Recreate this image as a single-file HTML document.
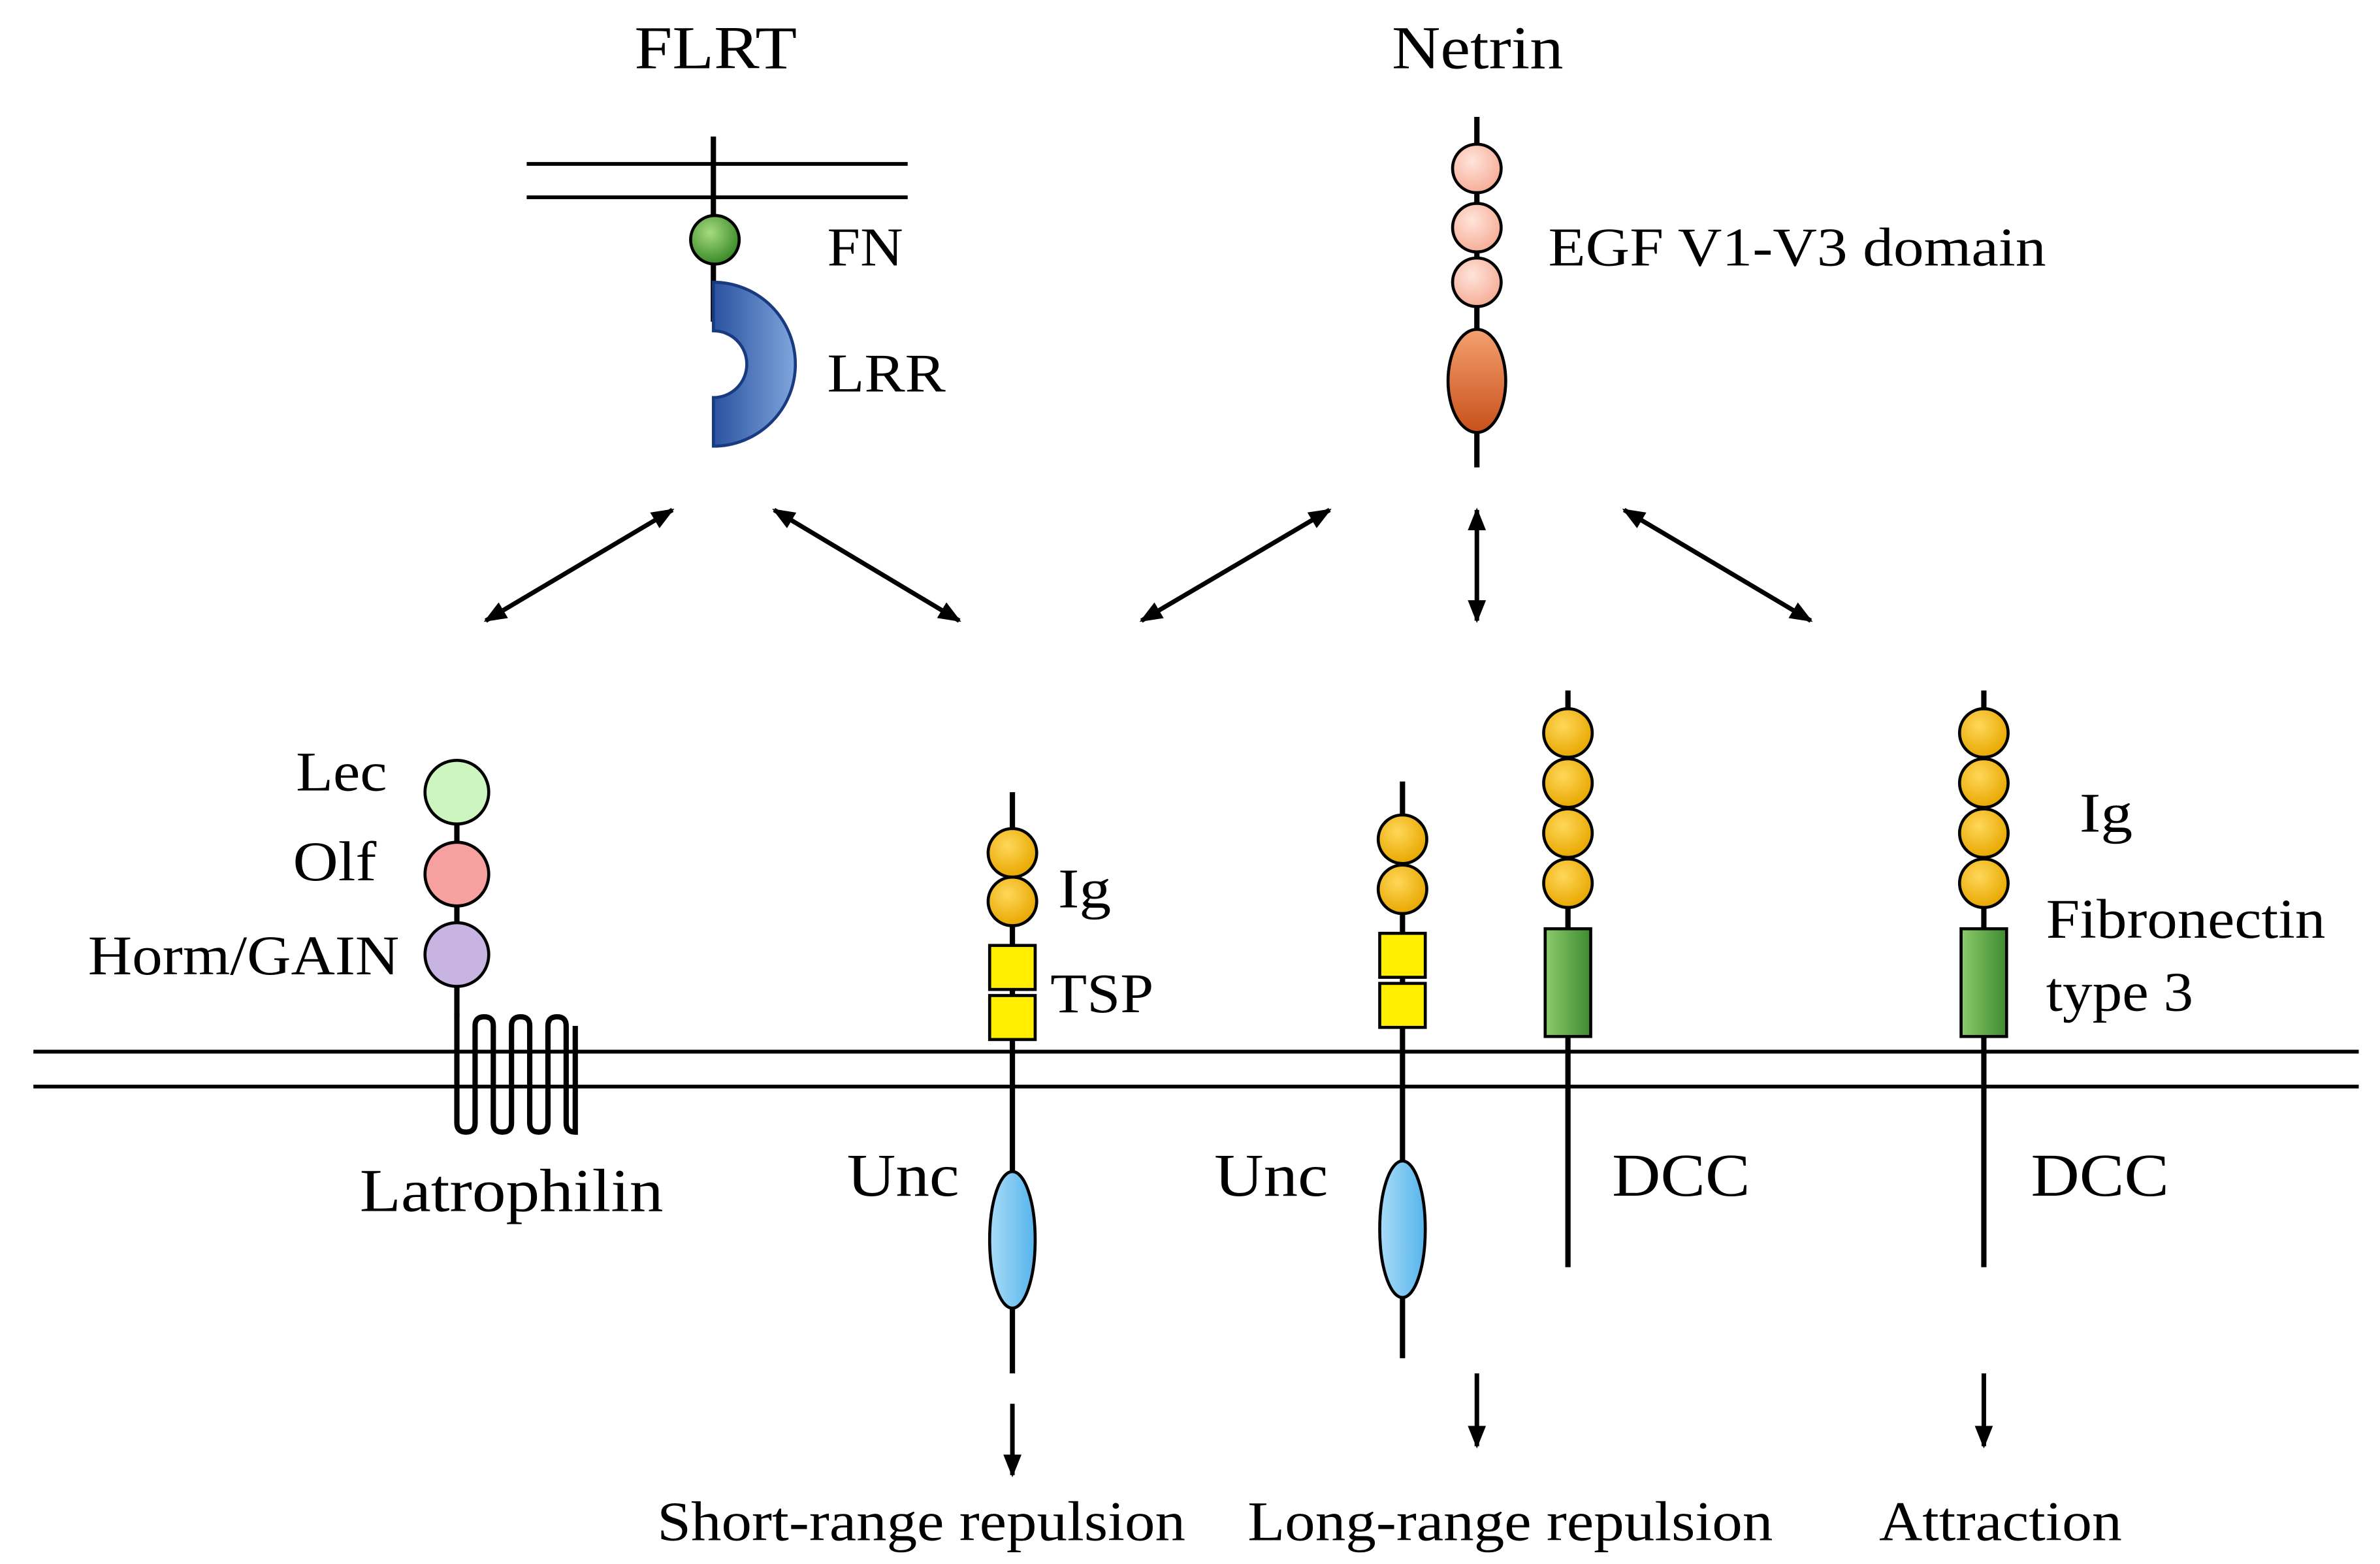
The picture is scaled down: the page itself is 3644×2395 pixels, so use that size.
<!DOCTYPE html>
<html><head><meta charset="utf-8"><style>
html,body{margin:0;padding:0;background:#fff}
svg{display:block}
text{font-family:"Liberation Serif",serif;fill:#000}
</style></head><body>
<svg width="3644" height="2395" viewBox="0 0 1568 1030.6" preserveAspectRatio="none" xmlns="http://www.w3.org/2000/svg">
<defs>
<radialGradient id="gold" cx="40%" cy="35%" r="65%"><stop offset="0" stop-color="#ffd75a"/><stop offset="1" stop-color="#e8a800"/></radialGradient>
<radialGradient id="pink" cx="40%" cy="35%" r="65%"><stop offset="0" stop-color="#ffe4da"/><stop offset="1" stop-color="#f6ae98"/></radialGradient>
<linearGradient id="orange" x1="0" y1="0" x2="0" y2="1"><stop offset="0" stop-color="#f4a070"/><stop offset="1" stop-color="#c8501a"/></linearGradient>
<linearGradient id="blue" x1="1" y1="0" x2="0" y2="0"><stop offset="0" stop-color="#7fa6dc"/><stop offset="1" stop-color="#2a52a0"/></linearGradient>
<linearGradient id="lblue" x1="0" y1="0" x2="1" y2="0"><stop offset="0" stop-color="#a8dcf8"/><stop offset="1" stop-color="#56b4ec"/></linearGradient>
<linearGradient id="green" x1="0" y1="0" x2="1" y2="0"><stop offset="0" stop-color="#8ccc6c"/><stop offset="1" stop-color="#3e8a30"/></linearGradient>
<radialGradient id="fn" cx="40%" cy="35%" r="65%"><stop offset="0" stop-color="#a6dc80"/><stop offset="1" stop-color="#3a8a28"/></radialGradient>
<marker id="ah" viewBox="0 0 10 10" refX="9" refY="5" markerWidth="5" markerHeight="5" orient="auto-start-reverse"><path d="M0,1 L10,5 L0,9 Z" fill="#000"/></marker>
</defs>
<g font-size="40" lengthAdjust="spacingAndGlyphs">
<text x="418" y="45" textLength="107" lengthAdjust="spacingAndGlyphs">FLRT</text>
<text x="917" y="45" textLength="113" lengthAdjust="spacingAndGlyphs">Netrin</text>
</g>
<g stroke="#000" stroke-width="2.5" fill="none">
<line x1="347" y1="108" x2="598" y2="108"/><line x1="347" y1="130" x2="598" y2="130"/>
<line x1="22" y1="693" x2="1554" y2="693"/><line x1="22" y1="716" x2="1554" y2="716"/>
</g>
<g stroke="#000" stroke-width="3.5">
<line x1="470" y1="90" x2="470" y2="212"/>
<line x1="973" y1="77" x2="973" y2="308"/>
<line x1="301" y1="505" x2="301" y2="670"/>
<line x1="667" y1="522" x2="667" y2="905"/>
<line x1="924" y1="515" x2="924" y2="895"/>
<line x1="1033" y1="455" x2="1033" y2="835"/>
<line x1="1307" y1="455" x2="1307" y2="835"/>
</g>
<path d="M470,186 A54,54 0 0 1 470,294 L470,262 A22,22 0 0 0 470,218 Z" fill="url(#blue)" stroke="#1a3a80" stroke-width="2"/>
<circle cx="471" cy="158" r="16" fill="url(#fn)" stroke="#000" stroke-width="2"/>
<g font-size="36">
<text x="545" y="175" textLength="50" lengthAdjust="spacingAndGlyphs">FN</text>
<text x="545" y="258" textLength="78" lengthAdjust="spacingAndGlyphs">LRR</text>
<text x="1020" y="175" textLength="328" lengthAdjust="spacingAndGlyphs">EGF V1-V3 domain</text></g>
<g fill="url(#pink)" stroke="#000" stroke-width="2">
<circle cx="973" cy="111" r="16"/><circle cx="973" cy="150" r="16"/><circle cx="973" cy="186" r="16"/></g>
<ellipse cx="973" cy="251" rx="19" ry="34" fill="url(#orange)" stroke="#000" stroke-width="2"/>
<g stroke="#000" stroke-width="3" marker-start="url(#ah)" marker-end="url(#ah)">
<line x1="443" y1="336" x2="320" y2="409"/>
<line x1="510" y1="336" x2="632" y2="409"/>
<line x1="876" y1="336" x2="752" y2="409"/>
<line x1="973" y1="336" x2="973" y2="409"/>
<line x1="1070" y1="336" x2="1193" y2="409"/>
</g>
<circle cx="301" cy="522" r="21" fill="#cdf5c0" stroke="#000" stroke-width="2"/>
<circle cx="301" cy="576" r="21" fill="#f6a0a0" stroke="#000" stroke-width="2"/>
<circle cx="301" cy="629" r="21" fill="#c8b4e0" stroke="#000" stroke-width="2"/>
<path d="M301,668 L301,740 Q301,746 307,746 Q313,746 313,740 L313,676 Q313,670 319,670 Q325,670 325,676 L325,740 Q325,746 331,746 Q337,746 337,740 L337,676 Q337,670 343,670 Q349,670 349,676 L349,740 Q349,746 355,746 Q361,746 361,740 L361,676 Q361,670 367,670 Q373,670 373,676 L373,740 Q373,746 379,746 L379,676" fill="none" stroke="#000" stroke-width="3.5"/>
<g font-size="37">
<text x="195" y="521" textLength="60" lengthAdjust="spacingAndGlyphs">Lec</text>
<text x="193" y="580" textLength="55" lengthAdjust="spacingAndGlyphs">Olf</text>
<text x="58" y="642" textLength="205" lengthAdjust="spacingAndGlyphs">Horm/GAIN</text>
<text x="237" y="798" font-size="40" textLength="200" lengthAdjust="spacingAndGlyphs">Latrophilin</text>
<text x="697" y="598" textLength="35" lengthAdjust="spacingAndGlyphs">Ig</text>
<text x="692" y="667" textLength="68" lengthAdjust="spacingAndGlyphs">TSP</text>
<text x="558" y="788" font-size="40" textLength="74" lengthAdjust="spacingAndGlyphs">Unc</text>
<text x="800" y="788" font-size="40" textLength="75" lengthAdjust="spacingAndGlyphs">Unc</text>
<text x="1062" y="788" font-size="40" textLength="91" lengthAdjust="spacingAndGlyphs">DCC</text>
<text x="1338" y="788" font-size="40" textLength="91" lengthAdjust="spacingAndGlyphs">DCC</text>
<text x="1370" y="548" textLength="35" lengthAdjust="spacingAndGlyphs">Ig</text>
<text x="1348" y="618" textLength="184" lengthAdjust="spacingAndGlyphs">Fibronectin</text>
<text x="1348" y="666" textLength="97" lengthAdjust="spacingAndGlyphs">type 3</text>
<text x="433" y="1015" textLength="348" lengthAdjust="spacingAndGlyphs">Short-range repulsion</text>
<text x="822" y="1015" textLength="346" lengthAdjust="spacingAndGlyphs">Long-range repulsion</text>
<text x="1238" y="1015" textLength="160" lengthAdjust="spacingAndGlyphs">Attraction</text>
</g>
<g fill="url(#gold)" stroke="#000" stroke-width="2">
<circle cx="667" cy="562" r="16"/><circle cx="667" cy="594" r="16"/>
<circle cx="924" cy="553" r="16"/><circle cx="924" cy="586" r="16"/>
<circle cx="1033" cy="483" r="16"/><circle cx="1033" cy="516" r="16"/><circle cx="1033" cy="549" r="16"/><circle cx="1033" cy="582" r="16"/>
<circle cx="1307" cy="483" r="16"/><circle cx="1307" cy="516" r="16"/><circle cx="1307" cy="549" r="16"/><circle cx="1307" cy="582" r="16"/>
</g>
<g fill="#ffee00" stroke="#000" stroke-width="2">
<rect x="652" y="623" width="30" height="29"/><rect x="652" y="656" width="30" height="29"/>
<rect x="909" y="615" width="30" height="29"/><rect x="909" y="648" width="30" height="29"/>
</g>
<g fill="url(#green)" stroke="#000" stroke-width="2">
<rect x="1018" y="612" width="30" height="71"/><rect x="1292" y="612" width="30" height="71"/>
</g>
<ellipse cx="667" cy="817" rx="15" ry="45" fill="url(#lblue)" stroke="#000" stroke-width="2"/>
<ellipse cx="924" cy="810" rx="15" ry="45" fill="url(#lblue)" stroke="#000" stroke-width="2"/>
<g stroke="#000" stroke-width="3" marker-end="url(#ah)">
<line x1="667" y1="925" x2="667" y2="972"/>
<line x1="973" y1="905" x2="973" y2="953"/>
<line x1="1307" y1="905" x2="1307" y2="953"/>
</g>
</svg>
</body></html>
